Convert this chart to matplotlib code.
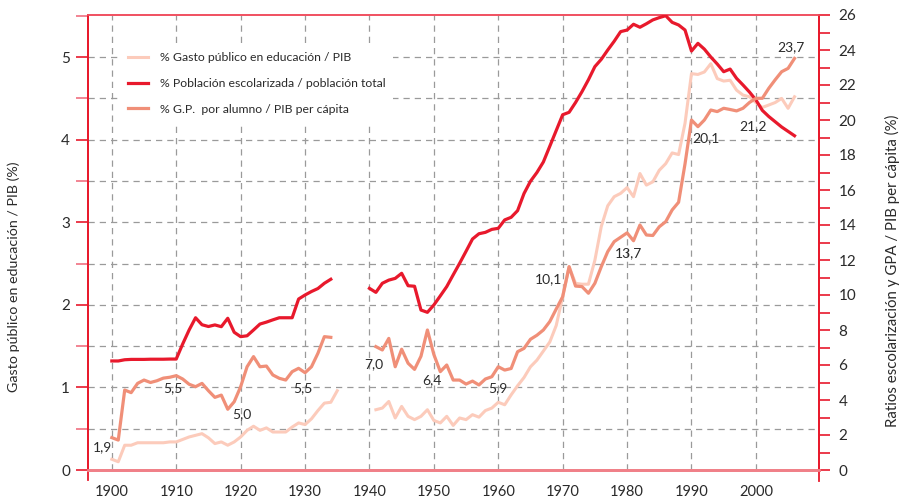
import numpy as np
import matplotlib
matplotlib.use('Agg')
import matplotlib.pyplot as plt
from matplotlib.ticker import MultipleLocator

plt.rcParams['font.family'] = ['Lato', 'DejaVu Sans']

# % gasto público en educación / PIB (eje izquierdo)
years_gp_a = list(range(1900, 1936))
gasto_pib_a = [0.13, 0.10, 0.30, 0.30, 0.33, 0.33, 0.33, 0.33, 0.33, 0.34,
               0.34, 0.37, 0.40, 0.42, 0.44, 0.39, 0.32, 0.34, 0.30, 0.34,
               0.40, 0.48, 0.53, 0.48, 0.51, 0.46, 0.46, 0.46, 0.52, 0.57,
               0.55, 0.62, 0.72, 0.81, 0.82, 0.96]
years_gp_b = list(range(1941, 2007))
gasto_pib_b = [0.73, 0.75, 0.83, 0.63, 0.77, 0.65, 0.61, 0.65, 0.73, 0.60,
               0.57, 0.65, 0.54, 0.63, 0.61, 0.67, 0.64, 0.72, 0.75, 0.82,
               0.79, 0.91, 1.02, 1.12, 1.25, 1.33, 1.44, 1.55, 1.75, 2.10,
               2.46, 2.26, 2.25, 2.25, 2.54, 2.95, 3.20, 3.31, 3.35, 3.42,
               3.31, 3.59, 3.45, 3.49, 3.63, 3.71, 3.84, 3.82, 4.20, 4.80,
               4.79, 4.82, 4.92, 4.74, 4.71, 4.72, 4.60, 4.54, 4.52, 4.45,
               4.39, 4.42, 4.45, 4.50, 4.38, 4.52]

# % población escolarizada / población total (eje derecho)
years_esc_a = list(range(1900, 1935))
escolar_a = [6.23, 6.23, 6.30, 6.32, 6.32, 6.32, 6.33, 6.33, 6.33, 6.34,
             6.34, 7.20, 8.00, 8.70, 8.30, 8.20, 8.29, 8.19, 8.67, 7.87,
             7.62, 7.67, 8.00, 8.34, 8.45, 8.58, 8.70, 8.70, 8.70, 9.77,
             10.00, 10.20, 10.37, 10.67, 10.90]
years_esc_b = list(range(1940, 2007))
escolar_b = [10.38, 10.15, 10.67, 10.85, 10.95, 11.24, 10.53, 10.50, 9.14, 9.01,
             9.43, 9.95, 10.48, 11.15, 11.81, 12.50, 13.20, 13.50, 13.58, 13.75,
             13.81, 14.29, 14.44, 14.82, 15.80, 16.50, 17.00, 17.60, 18.50, 19.40,
             20.30, 20.44, 21.00, 21.62, 22.30, 23.05, 23.47, 24.00, 24.50, 25.05,
             25.14, 25.47, 25.30, 25.50, 25.72, 25.85, 25.96, 25.58, 25.43, 25.14,
             23.94, 24.38, 24.05, 23.60, 23.20, 22.76, 22.91, 22.38, 22.00, 21.60,
             21.15, 20.55, 20.20, 19.90, 19.60, 19.35, 19.10]

# % G.P. por alumno / PIB per cápita (eje derecho)
years_gpa_a = list(range(1900, 1935))
gpa_a = [1.85, 1.71, 4.57, 4.42, 4.95, 5.14, 5.00, 5.10, 5.25, 5.30,
         5.39, 5.20, 4.90, 4.76, 4.95, 4.53, 4.15, 4.28, 3.47, 3.90,
         4.76, 5.90, 6.48, 5.90, 5.94, 5.43, 5.24, 5.14, 5.62, 5.81,
         5.56, 5.90, 6.67, 7.62, 7.58]
years_gpa_b = list(range(1941, 2007))
gpa_b = [7.05, 6.86, 7.52, 5.90, 6.90, 6.10, 5.75, 6.50, 8.00, 6.60,
         5.62, 6.00, 5.14, 5.14, 4.91, 5.08, 4.86, 5.20, 5.33, 5.90,
         5.71, 5.80, 6.76, 6.95, 7.47, 7.70, 8.00, 8.48, 9.20, 9.90,
         11.62, 10.51, 10.48, 10.10, 10.67, 11.62, 12.48, 13.05, 13.30, 13.55,
         13.10, 14.00, 13.43, 13.40, 13.90, 14.19, 14.86, 15.30, 17.50, 20.00,
         19.62, 20.00, 20.57, 20.48, 20.67, 20.60, 20.52, 20.67, 21.00, 21.24,
         21.24, 21.81, 22.30, 22.76, 22.95, 23.52]

# etiquetas de valores (texto, año, valor en eje derecho)
labels_txt = ["1,9", "5,5", "5,0", "5,5", "7,0", "6,4", "5,9", "10,1", "13,7", "20,1", "21,2", "23,7"]
labels_x = [1898.6, 1909.5, 1920.2, 1929.7, 1940.6, 1949.7, 1960.0, 1967.8, 1980.2, 1992.3, 1999.6, 2005.5]
labels_y = [1.31, 4.69, 3.2, 4.69, 6.06, 5.14, 4.69, 10.9, 12.4, 18.97, 19.66, 24.17]

C_RED = '#e8192c'
C_SALMON = '#f08f78'
C_PALE = '#fccbbb'
C_TXT = '#2a2a2a'

fig = plt.figure(figsize=(9.08, 5.0), dpi=100)
ax = fig.add_axes([88/908, 30/500, 731/908, 455/500])
ax2 = ax.twinx()

ax.set_xlim(1896.3, 2009.8)
ax.set_ylim(0, 5.51)
ax2.set_ylim(0, 26.0)

l_pale, = ax.plot(years_gp_a, gasto_pib_a, color=C_PALE, lw=2.2, zorder=3)
ax.plot(years_gp_b, gasto_pib_b, color=C_PALE, lw=2.2, zorder=3)
l_red, = ax2.plot(years_esc_a, escolar_a, color=C_RED, lw=2.3, zorder=3)
ax2.plot(years_esc_b, escolar_b, color=C_RED, lw=2.3, zorder=3)
l_sal, = ax2.plot(years_gpa_a, gpa_a, color=C_SALMON, lw=2.3, zorder=3)
ax2.plot(years_gpa_b, gpa_b, color=C_SALMON, lw=2.3, zorder=3)

for t, x, y in zip(labels_txt, labels_x, labels_y):
    ax2.text(x, y, t, ha='center', va='center', fontsize=10, color=C_TXT)

# rejilla
for yr in range(1900, 2001, 10):
    ax.axvline(yr, color='#9a9a9a', lw=0.9, ls=(0, (5, 4)), zorder=1)
for v in np.arange(0.5, 5.01, 0.5):
    ax.axhline(v, color='#9a9a9a', lw=0.9, ls=(0, (5, 4)), zorder=1)

ax.set_xticks(range(1900, 2001, 10))
ax.tick_params(axis='x', length=0, labelsize=10.5, labelcolor=C_TXT, pad=11)
ax.yaxis.set_major_locator(MultipleLocator(1))
ax.yaxis.set_minor_locator(MultipleLocator(0.5))
ax.tick_params(axis='y', which='major', length=9, width=1.2, color=C_RED, labelsize=11, labelcolor=C_TXT, pad=4)
ax.tick_params(axis='y', which='minor', length=9, width=1.2, color='#f07080')
ax2.yaxis.set_major_locator(MultipleLocator(2))
ax2.yaxis.set_minor_locator(MultipleLocator(1))
ax2.tick_params(axis='y', which='both', length=8, width=1.2, color=C_RED, labelsize=11, labelcolor=C_TXT, pad=6)

for a in (ax, ax2):
    a.spines['left'].set_color(C_RED)
    a.spines['right'].set_color(C_RED)
    a.spines['left'].set_linewidth(1.3)
    a.spines['right'].set_linewidth(1.3)
    a.spines['top'].set_color('#f05060')
    a.spines['top'].set_linewidth(1.2)
    a.spines['bottom'].set_color('#f08088')
    a.spines['bottom'].set_linewidth(2.0)
ax.spines['left'].set_bounds(-0.12, 5.51)
ax2.spines['right'].set_bounds(-0.6, 26.0)

ax.set_ylabel('Gasto público en educación / PIB (%)', fontsize=10.3, color=C_TXT)
ax.yaxis.set_label_coords(-0.093, 0.425)
ax2.set_ylabel('Ratios escolarización y GPA / PIB per cápita (%)', fontsize=10.8, color=C_TXT)
ax2.yaxis.set_label_coords(1.09, 0.437)

leg = ax2.legend([l_pale, l_red, l_sal],
                 ['% Gasto público en educación / PIB',
                  '% Población escolarizada / población total',
                  '% G.P.  por alumno / PIB per cápita'],
                 loc='upper left', bbox_to_anchor=(0.045, 0.935), frameon=True,
                 fontsize=8.8, handlelength=1.6, handletextpad=1.0, labelspacing=1.22,
                 borderpad=0.6, borderaxespad=0)
leg.get_frame().set_facecolor('white')
leg.get_frame().set_edgecolor('none')
leg.get_frame().set_alpha(1)
for tx in leg.get_texts():
    tx.set_color(C_TXT)

fig.savefig('out.png', dpi=100)
